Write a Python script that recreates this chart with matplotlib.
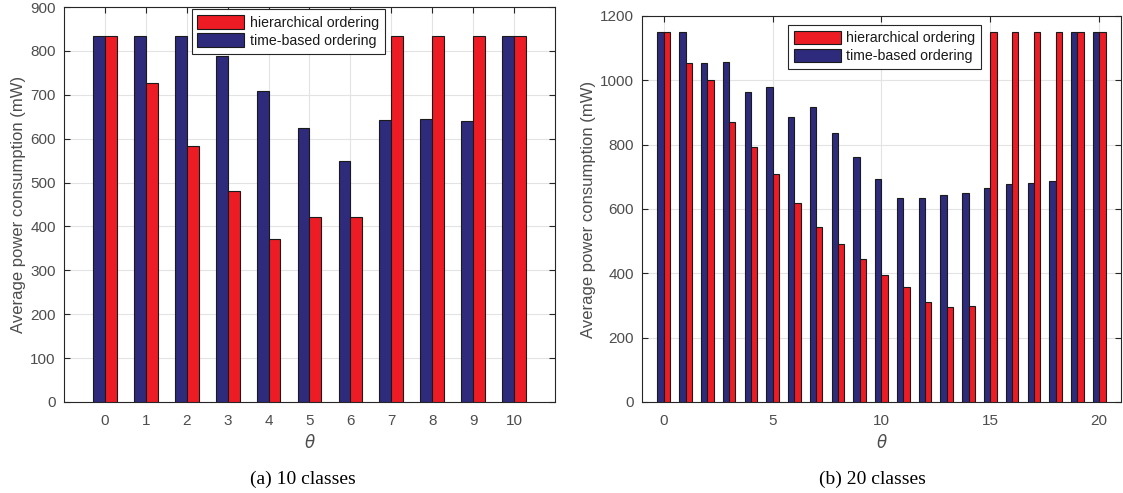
import matplotlib.pyplot as plt
import numpy as np

plt.rcParams['font.family'] = ['Liberation Sans', 'DejaVu Sans']

# 10 classes
theta_10 = np.arange(0, 11)
hier_10 = [835, 728, 584, 481, 371, 422, 422, 835, 835, 835, 835]
time_10 = [835, 835, 835, 789, 708, 625, 550, 642, 644, 641, 835]

# 20 classes
theta_20 = np.arange(0, 21)
hier_20 = [1149, 1054, 1001, 870, 792, 708, 620, 543, 490, 443, 394, 359, 311,
           295, 297, 1149, 1149, 1149, 1149, 1149, 1149]
time_20 = [1149, 1149, 1053, 1057, 964, 980, 887, 916, 836, 762, 694, 635, 634,
           645, 650, 665, 678, 681, 687, 1149, 1149]

red = '#ED1C24'
navy = '#2E2B7C'
tick_gray = '#4D4D4D'
w = 0.29

fig = plt.figure(figsize=(11.23, 4.93), dpi=100)
ax1 = fig.add_axes([0.057, 0.1846, 0.4372, 0.801])
ax2 = fig.add_axes([0.5717, 0.1846, 0.4265, 0.783])


def draw(ax, x, hier, tb, ylim, yticks, xticks, legend_box):
    ax.bar(x - w / 2, tb, w, color=navy, edgecolor='#1a1a1a', linewidth=0.8,
           label='time-based ordering', zorder=3)
    ax.bar(x + w / 2, hier, w, color=red, edgecolor='#1a1a1a', linewidth=0.8,
           label='hierarchical ordering', zorder=3)
    ax.set_xlim(-1, x[-1] + 1)
    ax.set_ylim(*ylim)
    ax.set_yticks(yticks)
    ax.set_xticks(xticks)
    ax.grid(True, color='#E3E3E3', linewidth=0.8, zorder=0)
    ax.tick_params(direction='in', top=True, right=True, length=4,
                   labelsize=11, colors='#262626', labelcolor=tick_gray)
    ax.tick_params(axis='x', pad=9)
    ax.tick_params(axis='y', pad=6)
    for s in ax.spines.values():
        s.set_color('#262626')
        s.set_linewidth(0.8)
    ax.set_ylabel('Average power consumption (mW)', fontsize=12, color=tick_gray,
                  labelpad=3)
    ax.set_xlabel(r'$\theta$', fontsize=12, color=tick_gray, labelpad=3)
    h, l = ax.get_legend_handles_labels()
    leg = ax.legend(h[::-1], l[::-1], loc='upper left', bbox_to_anchor=legend_box,
                    borderaxespad=0, fontsize=10.2, handlelength=3.3,
                    handleheight=1.1, handletextpad=0.4, borderpad=0.4,
                    labelspacing=0.25, fancybox=False, framealpha=1,
                    edgecolor='#262626')
    leg.get_frame().set_linewidth(0.8)
    for t in leg.get_texts():
        t.set_color('#1a1a1a')


draw(ax1, theta_10, hier_10, time_10, (0, 900), np.arange(0, 901, 100),
     theta_10, (0.26, 0.994))
draw(ax2, theta_20, hier_20, time_20, (0, 1200), np.arange(0, 1201, 200),
     np.arange(0, 21, 5), (0.305, 0.977))

fig.text(0.27, 0.018, '(a) 10 classes', family=['Liberation Serif', 'DejaVu Serif'],
         fontsize=14, ha='center')
fig.text(0.777, 0.018, '(b) 20 classes', family=['Liberation Serif', 'DejaVu Serif'],
         fontsize=14, ha='center')

fig.savefig('out.png', dpi=100)
